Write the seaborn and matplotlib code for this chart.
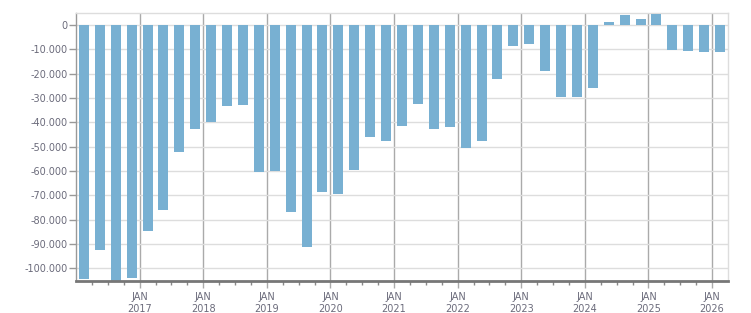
import matplotlib
matplotlib.use("Agg")
import matplotlib.pyplot as plt
import seaborn as sns
import pandas as pd
import numpy as np

# Quarterly values, 2016 Q1 .. 2026 Q1
years = [2016]*4 + [2017]*4 + [2018]*4 + [2019]*4 + [2020]*4 + [2021]*4 + \
        [2022]*4 + [2023]*4 + [2024]*4 + [2025]*4 + [2026]
quarters = [1, 2, 3, 4]*10 + [1]
values = [-104200, -92300, -105000, -103800,
          -84500, -75900, -52100, -42600,
          -39900, -33200, -32700, -60300,
          -59900, -76700, -91100, -68500,
          -69300, -59500, -45900, -47500,
          -41400, -32300, -42600, -41800,
          -50400, -47500, -22100, -8500,
          -7700, -18800, -29500, -29500,
          -25800, 1200, 4100, 2500,
          4500, -10100, -10500, -11000,
          -11000]
year_ticks = list(range(2017, 2027))
y_ticks = list(range(0, -100001, -10000))

df = pd.DataFrame({"year": years, "q": quarters, "value": values})
df["t"] = df["year"] + (df["q"] - 1) * 0.25 + 0.125

sns.set_style("white")
plt.rcParams['font.family'] = ['DejaVu Sans']
txt = '#6b6b7b'

fig = plt.figure(figsize=(7.51, 3.13), dpi=100)
ax = fig.add_axes([76/751, 1 - 281/313, (728-76)/751, (281-13.3)/313])

sns.barplot(data=df, x="t", y="value", native_scale=True, width=0.63,
            color="#78b0d2", saturation=1, linewidth=0, edgecolor="none",
            ax=ax, zorder=3)

ax.set_xlim(2016.0, 2026.25)
ax.set_ylim(-105200, 4800)

ax.set_yticks(y_ticks)
ax.set_yticklabels([f"{v:,}".replace(",", ".") for v in y_ticks])
ax.set_xticks(year_ticks)
ax.set_xticklabels([f"JAN\n{y}" for y in year_ticks])
minor = [y + q*0.25 for y in range(2016, 2027) for q in range(4)]
minor = [m for m in minor if 2016 < m < 2026.25 and (m % 1) != 0]
ax.set_xticks(minor, minor=True)

ax.tick_params(axis='y', labelsize=7, colors='#999999', labelcolor=txt,
               length=5, width=1, pad=1, left=True)
ax.tick_params(axis='x', which='major', labelsize=7, colors='#aaaaaa',
               labelcolor=txt, length=5, width=1, pad=3, bottom=True)
ax.tick_params(axis='x', which='minor', colors='#888888', length=3, width=1,
               bottom=True)

ax.grid(axis='y', color='#dddddd', linewidth=1, zorder=0)
ax.grid(axis='x', which='major', color='#aaaaaa', linewidth=1, zorder=1)
ax.set_axisbelow(True)

ax.set_xlabel("")
ax.set_ylabel("")
for s in ['top', 'right']:
    ax.spines[s].set_color('#dddddd')
    ax.spines[s].set_linewidth(1)
ax.spines['left'].set_color('#999999')
ax.spines['left'].set_linewidth(1)
ax.spines['bottom'].set_color('#777777')
ax.spines['bottom'].set_linewidth(2)
ax.spines['bottom'].set_zorder(5)

fig.savefig("out.png", dpi=100)
